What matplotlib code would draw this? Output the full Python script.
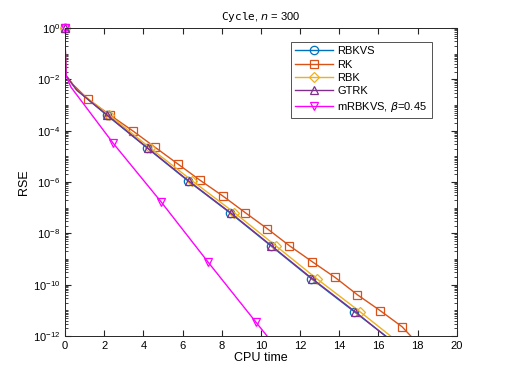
import numpy as np
import matplotlib
matplotlib.use('Agg')
import matplotlib.pyplot as plt
from matplotlib.ticker import LogLocator, NullFormatter

plt.rcParams['font.family'] = ['Liberation Sans', 'DejaVu Sans']
plt.rcParams['mathtext.fontset'] = 'dejavusans'

# RSE vs CPU time (log scale)
t_rbkvs = [0, 0.02, 0.05, 0.6, 2.12, 4.20, 6.28, 8.42, 10.50, 12.58, 14.76, 17.0]
rse_rbkvs = [1, 1e-1, 1.4e-2, 3.8e-3, 4.1e-4, 2.1e-5, 1.1e-6, 6.3e-8, 3.3e-9, 1.7e-10, 8.9e-12, 4.2e-13]

t_rk = [0, 0.02, 0.05, 0.4, 1.17, 2.29, 3.46, 4.58, 5.75, 6.87, 8.04, 9.21,
        10.33, 11.45, 12.62, 13.79, 14.91, 16.08, 17.20, 18.5]
rse_rk = [1, 1e-1, 1.4e-2, 6.3e-3, 1.7e-3, 4.1e-4, 9.8e-5, 2.3e-5, 5.1e-6, 1.2e-6, 2.9e-7, 6.3e-8,
          1.5e-8, 3.3e-9, 7.8e-10, 1.9e-10, 4.1e-11, 9.8e-12, 2.3e-12, 2e-13]

t_rbk = [0, 0.02, 0.05, 0.6, 2.25, 4.35, 6.50, 8.65, 10.75, 12.85, 15.05, 17.2]
rse_rbk = [1, 1e-1, 1.4e-2, 3.8e-3, 4.1e-4, 2.1e-5, 1.1e-6, 6.3e-8, 3.3e-9, 1.7e-10, 8.9e-12, 4.4e-13]

t_gtrk = [0, 0.02, 0.05, 0.6, 2.14, 4.22, 6.31, 8.45, 10.53, 12.62, 14.80, 17.0]
rse_gtrk = [1, 1e-1, 1.4e-2, 3.8e-3, 4.1e-4, 2.1e-5, 1.1e-6, 6.3e-8, 3.3e-9, 1.7e-10, 8.9e-12, 4e-13]

t_m = [0, 0.02, 0.05, 0.3, 2.45, 4.90, 7.30, 9.74, 11.0]
rse_m = [1, 1e-1, 1.4e-2, 5.0e-3, 3.3e-5, 1.7e-7, 7.6e-10, 3.5e-12, 2.2e-13]

labels = ['RBKVS', 'RK', 'RBK', 'GTRK', r'mRBKVS, $\beta$=0.45']
colors = ['#0072BD', '#D95319', '#EDB120', '#7E2F8E', '#FF00FF']
markers = ['o', 's', 'D', '^', 'v']

series = [
    (t_rbkvs, rse_rbkvs, [0] + list(range(4, 11))),
    (t_rk, rse_rk, [0] + list(range(4, 19))),
    (t_rbk, rse_rbk, [0] + list(range(4, 11))),
    (t_gtrk, rse_gtrk, [0] + list(range(4, 11))),
    (t_m, rse_m, [0] + list(range(4, 8))),
]

fig = plt.figure(figsize=(5.05, 3.79), dpi=100)
ax = fig.add_axes([0.1287, 0.1135, 0.776, 0.8127])

for (t, r, me), lab, c, m in zip(series, labels, colors, markers):
    ms = 5 if m == 'D' else 6
    # line (clipped at the axes) plus unclipped markers, like MATLAB
    ax.semilogy(t, r, color=c, linewidth=1.0)
    ax.semilogy(t, r, color=c, marker=m, markevery=me, markersize=ms, linestyle='none',
                markerfacecolor='none', markeredgewidth=0.9, clip_on=False)
    ax.plot([], [], color=c, marker=m, markersize=ms, markerfacecolor='none',
            markeredgewidth=0.9, linewidth=1.0, label=lab)

ax.set_xlim(0, 20)
ax.set_ylim(1e-12, 1e0)
ax.set_xticks(np.arange(0, 21, 2))
ax.set_yticks([10.0 ** k for k in range(-12, 1, 2)])
ax.yaxis.set_minor_locator(LogLocator(base=10, subs=np.arange(1, 10), numticks=100))
ax.yaxis.set_minor_formatter(NullFormatter())
ax.tick_params(which='both', direction='in', top=True, right=True, labelsize=8, color='#262626')
ax.tick_params(which='major', length=4)
ax.tick_params(which='minor', length=2)
for s in ax.spines.values():
    s.set_color('#262626')
    s.set_linewidth(0.7)

ax.set_xlabel('CPU time', fontsize=9, labelpad=1)
ax.set_ylabel('RSE', fontsize=9, labelpad=2)
ax.set_title(r'$\mathtt{Cycle}$, $n$ = 300', fontsize=8, pad=6)

leg = ax.legend(loc='upper right', bbox_to_anchor=(0.936, 0.955), fontsize=8,
                frameon=True, fancybox=False, edgecolor='#262626', handlelength=3.4,
                borderpad=0.4, labelspacing=0.3, handletextpad=0.4, borderaxespad=0)
leg.get_frame().set_linewidth(0.7)

fig.savefig('out.png', dpi=100)
